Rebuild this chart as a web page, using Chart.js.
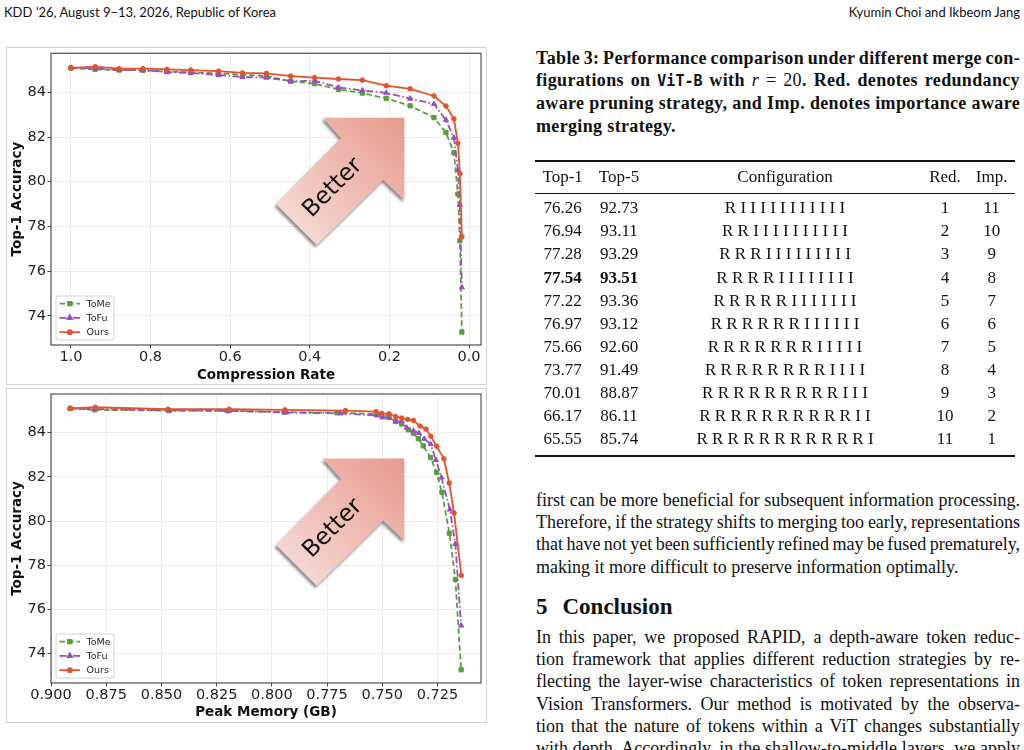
<!DOCTYPE html>
<html>
<head>
<meta charset="utf-8">
<script src="https://cdn.jsdelivr.net/npm/chart.js@4.4.1/dist/chart.umd.min.js"></script>
<style>
  html, body { margin: 0; padding: 0; background: #fff; }
  body { width: 1024px; height: 750px; overflow: hidden; position: relative;
         font-family: "Liberation Serif", serif; color: #111; }
  .hdr { position: absolute; top: 4px; font-family: Lato, sans-serif; font-size: 13px; line-height: 16px; }
  .frame { position: absolute; left: 6px; width: 481px; box-sizing: border-box; border: 1px solid #d2d2d2; }
  .frame canvas { display: block; }
  .col { position: absolute; left: 536px; width: 484px; }
  .ln { display: block; white-space: nowrap; }
  .cap { font-weight: bold; font-size: 18px; line-height: 22.2px; letter-spacing: 0.35px; }
  .cap .tt { font-family: "DejaVu Sans Mono", monospace; font-weight: bold; font-size: 15px; letter-spacing: 0; }
  .body { font-size: 18px; line-height: 22.2px; }
  .rule { position: absolute; left: 535px; width: 480px; background: #111; }
  .cell { position: absolute; text-align: center; font-size: 17px; line-height: 22px; white-space: nowrap; }
  h2 { position: absolute; left: 536px; top: 594px; margin: 0; font-size: 23px; line-height: 26px; font-weight: bold; white-space: nowrap; }
</style>
</head>
<body>
<div class="hdr" style="left:4px">KDD ’26, August 9–13, 2026, Republic of Korea</div>
<div class="hdr" style="right:4px">Kyumin Choi and Ikbeom Jang</div>

<div class="frame" style="top:47px;height:338px"><canvas id="cmpChart" width="479" height="336"></canvas></div>
<div class="frame" style="top:388px;height:335px"><canvas id="memChart" width="479" height="333"></canvas></div>

<div class="col cap" style="top:47px">
  <span class="ln j">Table 3: Performance comparison under different merge con-</span>
  <span class="ln j">figurations on <span class="tt">ViT-B</span> with <i style="font-weight:normal">r</i> <span style="font-weight:normal">= 20</span>. Red. denotes redundancy</span>
  <span class="ln j">aware pruning strategy, and Imp. denotes importance aware</span>
  <span class="ln">merging strategy.</span>
</div>

<div id="tbl"></div>

<div class="col body" style="top:489px">
  <span class="ln j">first can be more beneficial for subsequent information processing.</span>
  <span class="ln j">Therefore, if the strategy shifts to merging too early, representations</span>
  <span class="ln j">that have not yet been sufficiently refined may be fused prematurely,</span>
  <span class="ln">making it more difficult to preserve information optimally.</span>
</div>
<h2>5<span style="display:inline-block;width:15px"></span>Conclusion</h2>
<div class="col body" style="top:626px">
  <span class="ln j">In this paper, we proposed RAPID, a depth-aware token reduc-</span>
  <span class="ln j">tion framework that applies different reduction strategies by re-</span>
  <span class="ln j">flecting the layer-wise characteristics of token representations in</span>
  <span class="ln j">Vision Transformers. Our method is motivated by the observa-</span>
  <span class="ln j">tion that the nature of tokens within a ViT changes substantially</span>
  <span class="ln j">with depth. Accordingly, in the shallow-to-middle layers, we apply</span>
</div>

<script>
/* ===== data ===== */
const seriesNames = ['ToMe', 'ToFu', 'Ours'];

// compression rate (shared by all methods)
const cmpRate = [1.0, 0.939, 0.879, 0.819, 0.759, 0.699, 0.629, 0.569, 0.509, 0.448, 0.388,
                 0.328, 0.268, 0.208, 0.148, 0.088, 0.058, 0.038, 0.028, 0.023, 0.018];

// peak memory (GB)
const memToMe = [0.8913, 0.8802, 0.8467, 0.8201, 0.7945, 0.7705, 0.7528, 0.7502, 0.7469, 0.7439, 0.7412,
                 0.7382, 0.7359, 0.7337, 0.7314, 0.7281, 0.7254, 0.7230, 0.7196, 0.7169, 0.7143];
const memToFu = [0.8913, 0.8802, 0.8464, 0.8193, 0.7935, 0.7690, 0.7525, 0.7499, 0.7469, 0.7439, 0.7412,
                 0.7389, 0.7359, 0.7334, 0.7310, 0.7281, 0.7257, 0.7232, 0.7194, 0.7169, 0.7143];
const memOurs = [0.8913, 0.8799, 0.8471, 0.8193, 0.7941, 0.7667, 0.7528, 0.7502, 0.7469, 0.7439, 0.7412,
                 0.7385, 0.7359, 0.7329, 0.7302, 0.7280, 0.7254, 0.7221, 0.7197, 0.7175, 0.7142];

// top-1 accuracy
const accToMe = [85.09, 85.03, 85.00, 84.99, 84.93, 84.90, 84.85, 84.80, 84.73, 84.50, 84.39,
                 84.13, 83.97, 83.73, 83.40, 82.87, 82.20, 81.30, 79.45, 77.36, 73.27];
const accToFu = [85.10, 85.07, 85.00, 84.99, 84.91, 84.87, 84.78, 84.69, 84.66, 84.50, 84.52,
                 84.22, 84.09, 83.98, 83.72, 83.48, 82.76, 81.97, 80.52, 78.96, 75.27];
const accOurs = [85.10, 85.15, 85.06, 85.06, 85.03, 85.00, 84.95, 84.87, 84.85, 84.73, 84.66,
                 84.60, 84.55, 84.30, 84.16, 83.84, 83.39, 82.82, 81.72, 80.36, 77.54];

const cmpTicks = [0.0, 0.2, 0.4, 0.6, 0.8, 1.0];
const memTicks = [0.725, 0.750, 0.775, 0.800, 0.825, 0.850, 0.875, 0.900];
const accTicks = [74, 76, 78, 80, 82, 84];

// table 3
const tblHead = ['Top-1', 'Top-5', 'Configuration', 'Red.', 'Imp.'];
const tblRows = [
  ['76.26', '92.73', 'R I I I I I I I I I I I', '1', '11'],
  ['76.94', '93.11', 'R R I I I I I I I I I I', '2', '10'],
  ['77.28', '93.29', 'R R R I I I I I I I I I', '3', '9'],
  ['77.54', '93.51', 'R R R R I I I I I I I I', '4', '8'],
  ['77.22', '93.36', 'R R R R R I I I I I I I', '5', '7'],
  ['76.97', '93.12', 'R R R R R R I I I I I I', '6', '6'],
  ['75.66', '92.60', 'R R R R R R R I I I I I', '7', '5'],
  ['73.77', '91.49', 'R R R R R R R R I I I I', '8', '4'],
  ['70.01', '88.87', 'R R R R R R R R R I I I', '9', '3'],
  ['66.17', '86.11', 'R R R R R R R R R R I I', '10', '2'],
  ['65.55', '85.74', 'R R R R R R R R R R R I', '11', '1'],
];
const bestRow = 3;

/* ===== justified text lines ===== */
document.querySelectorAll('.j').forEach(el => {
  el.innerHTML = '<span>' + el.innerHTML.trim() + '</span>';
  const w = el.firstChild.getBoundingClientRect().width;
  const gaps = (el.textContent.trim().match(/ /g) || []).length;
  if (gaps) el.style.wordSpacing = ((484 - w) / gaps) + 'px';
});

/* ===== table ===== */
const colCenters = [562.7, 619, 785, 945, 991.7];
const tbl = document.getElementById('tbl');
function addRule(top, h) {
  const d = document.createElement('div');
  d.className = 'rule';
  d.style.top = top + 'px';
  d.style.height = h + 'px';
  tbl.appendChild(d);
}
function addRow(cells, centerY, bold) {
  cells.forEach((t, i) => {
    const d = document.createElement('div');
    d.className = 'cell';
    d.style.left = (colCenters[i] - 100) + 'px';
    d.style.width = '200px';
    d.style.top = (centerY - 12) + 'px';
    if (bold && i < 2) d.style.fontWeight = 'bold';
    d.textContent = t;
    tbl.appendChild(d);
  });
}
addRule(160, 1.6);
addRow(tblHead, 177.7, false);
addRule(192.6, 1);
tblRows.forEach((r, i) => addRow(r, 209.3 + 23.07 * i, i === bestRow));
addRule(455, 1.6);

/* ===== charts ===== */
const GREEN = '#55a03b', PURPLE = '#9a4dc2', ORANGE = '#e2532f';
const TICK_FONT = { family: 'DejaVu Sans', size: 14.5 };
const TITLE_FONT = { family: 'DejaVu Sans', size: 13.5, weight: 'bold' };

// "Better" arrow, offsets from the plot's top-left corner
const betterArrow = {
  id: 'betterArrow',
  beforeDatasetsDraw(chart) {
    const { ctx, chartArea: a } = chart;
    const pts = [[271.7, 64.4], [353.3, 64.4], [353.3, 146.7], [332.3, 126.7],
                 [265.7, 191.7], [225, 151], [290, 85]];
    ctx.save();
    ctx.translate(a.left, a.top);
    const g = ctx.createLinearGradient(228, 190, 353, 64);
    g.addColorStop(0, '#f7e1dd');
    g.addColorStop(1, '#e89a8c');
    ctx.beginPath();
    pts.forEach((p, i) => i ? ctx.lineTo(p[0], p[1]) : ctx.moveTo(p[0], p[1]));
    ctx.closePath();
    ctx.shadowColor = 'rgba(0,0,0,0.45)';
    ctx.shadowBlur = 3;
    ctx.shadowOffsetX = -1.5;
    ctx.shadowOffsetY = 2.5;
    ctx.fillStyle = g;
    ctx.fill();
    ctx.shadowColor = 'transparent';
    ctx.translate(282, 134.7);
    ctx.rotate(-Math.PI / 4);
    ctx.fillStyle = '#111';
    ctx.font = '23.5px "DejaVu Sans"';
    ctx.textAlign = 'center';
    ctx.textBaseline = 'middle';
    ctx.fillText('Better', 0, 0);
    ctx.restore();
  }
};

// full box around the axes + legend in the lower-left corner
const boxLegend = {
  id: 'boxLegend',
  afterDatasetsDraw(chart) {
    const { ctx, chartArea: a } = chart;
    ctx.save();
    ctx.strokeStyle = '#505050';
    ctx.lineWidth = 1.2;
    ctx.strokeRect(a.left, a.top, a.right - a.left, a.bottom - a.top);

    const x0 = a.left + 5, w = 58, h = 44, y0 = a.bottom - 5 - h;
    ctx.beginPath();
    ctx.roundRect(x0, y0, w, h, 2.5);
    ctx.fillStyle = 'rgba(255,255,255,0.85)';
    ctx.fill();
    ctx.strokeStyle = '#d4d4d4';
    ctx.lineWidth = 1;
    ctx.stroke();

    chart.data.datasets.forEach((ds, i) => {
      const cy = y0 + 7.6 + i * 14.3;
      ctx.strokeStyle = ds.borderColor;
      ctx.fillStyle = ds.borderColor;
      ctx.lineWidth = ds.borderWidth;
      ctx.setLineDash(ds.borderDash || []);
      ctx.beginPath();
      ctx.moveTo(x0 + 3.5, cy);
      ctx.lineTo(x0 + 24, cy);
      ctx.stroke();
      ctx.setLineDash([]);
      Chart.helpers.drawPoint(ctx, {
        pointStyle: ds.pointStyle, radius: ds.pointRadius * 0.85, rotation: 0, borderWidth: 1
      }, x0 + 13.8, cy);
      ctx.fillStyle = '#222';
      ctx.font = '9.5px "DejaVu Sans"';
      ctx.textBaseline = 'middle';
      ctx.fillText(seriesNames[i], x0 + 30.5, cy + 0.5);
    });
    ctx.restore();
  }
};

function series(xs, ys) {
  return xs.map((x, k) => ({ x, y: ys[k] }));
}

function makeDatasets(xToMe, xToFu, xOurs) {
  return [
    { label: seriesNames[0], data: series(xToMe, accToMe), borderColor: GREEN, backgroundColor: GREEN,
      borderDash: [5.5, 3], pointStyle: 'rect', pointRadius: 3.0, order: 2 },
    { label: seriesNames[1], data: series(xToFu, accToFu), borderColor: PURPLE, backgroundColor: PURPLE,
      borderDash: [7, 2.5, 1.5, 2.5], pointStyle: 'triangle', pointRadius: 3.0, order: 1 },
    { label: seriesNames[2], data: series(xOurs, accOurs), borderColor: ORANGE, backgroundColor: ORANGE,
      pointStyle: 'circle', pointRadius: 2.3, order: 0 },
  ].map(d => Object.assign(d, { showLine: true, borderWidth: 1.8, pointBorderWidth: 1, tension: 0 }));
}

function noPad(s) {
  s.paddingTop = 0; s.paddingBottom = 0; s.paddingLeft = 0; s.paddingRight = 0;
}

function makeChart(id, datasets, xCfg, yCfg, padTop) {
  return new Chart(document.getElementById(id), {
    type: 'scatter',
    data: { datasets },
    options: {
      responsive: false,
      animation: false,
      layout: { padding: { top: padTop, right: 3, left: 0, bottom: 0 } },
      plugins: { legend: { display: false }, tooltip: { enabled: false } },
      scales: {
        x: {
          type: 'linear', reverse: true, min: xCfg.min, max: xCfg.max,
          afterBuildTicks: s => { s.ticks = xCfg.ticks.map(v => ({ value: v })); },
          afterFit: s => { s.height = 39; noPad(s); },
          ticks: { font: TICK_FONT, color: '#222', padding: 0, autoSkip: false, maxRotation: 0,
                   callback: xCfg.fmt },
          grid: { color: '#ececec', lineWidth: 1, tickLength: 3.5, tickColor: '#444' },
          border: { display: false },
          title: { display: true, text: xCfg.title, font: TITLE_FONT, color: '#111',
                   padding: { top: 0, bottom: xCfg.titlePad } }
        },
        y: {
          min: yCfg.min, max: yCfg.max,
          afterBuildTicks: s => { s.ticks = accTicks.map(v => ({ value: v })); },
          afterFit: s => { s.width = 44; noPad(s); },
          ticks: { font: TICK_FONT, color: '#222', padding: 1.5, callback: v => String(v) },
          grid: { color: '#ececec', lineWidth: 1, tickLength: 3.5, tickColor: '#444' },
          border: { display: false },
          title: { display: true, text: 'Top-1 Accuracy', font: TITLE_FONT, color: '#111',
                   padding: { top: 2.5, bottom: 0 } }
        }
      }
    },
    plugins: [betterArrow, boxLegend]
  });
}

makeChart('cmpChart', makeDatasets(cmpRate, cmpRate, cmpRate),
  { min: -0.03, max: 1.05, ticks: cmpTicks, fmt: v => v.toFixed(1), title: 'Compression Rate', titlePad: 0.5 },
  { min: 72.69, max: 85.75 }, 5.3);

makeChart('memChart', makeDatasets(memToMe, memToFu, memOurs),
  { min: 0.7053, max: 0.9, ticks: memTicks, fmt: v => v.toFixed(3), title: 'Peak Memory (GB)', titlePad: 1 },
  { min: 72.67, max: 85.75 }, 3.3);
</script>
</body>
</html>
